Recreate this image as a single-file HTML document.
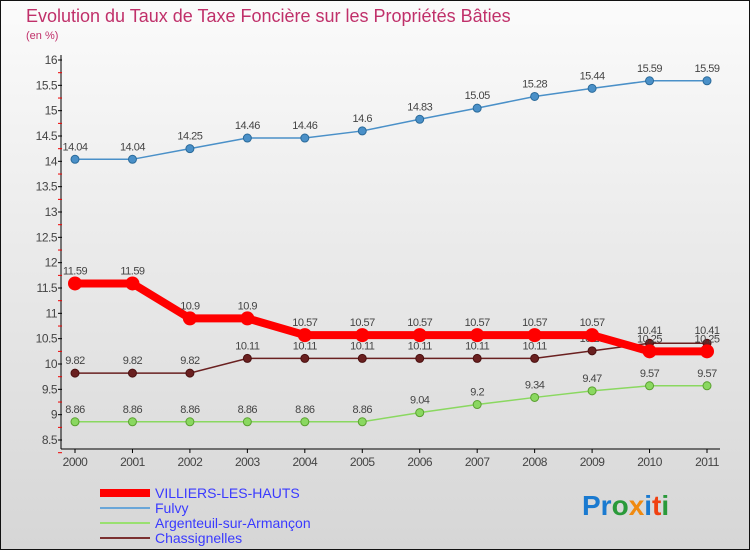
<!DOCTYPE html>
<html><head><meta charset="utf-8"><style>
body{margin:0;width:750px;height:550px;overflow:hidden;font-family:"Liberation Sans",sans-serif}
</style></head><body>
<svg id="c" width="750" height="550" xmlns="http://www.w3.org/2000/svg" font-family="Liberation Sans, sans-serif">
<defs><linearGradient id="bg" x1="0" y1="0" x2="0" y2="1"><stop offset="0" stop-color="#fbfbfb"/><stop offset="1" stop-color="#d6d6d6"/></linearGradient></defs>
<rect x="0.5" y="0.5" width="749" height="549" fill="url(#bg)" stroke="#111"/>
<text x="26" y="22" font-size="18" fill="#c0306a">Evolution du Taux de Taxe Foncière sur les Propriétés Bâties</text>
<text x="26" y="39" font-size="11" fill="#c0306a">(en %)</text>
<g id="axes"></g><g id="series"></g>
<g font-size="14">
<rect x="100" y="489" width="50" height="8" fill="#f00"/>
<text x="155" y="498" fill="#3a3aff">VILLIERS-LES-HAUTS</text>
<line x1="100" y1="508" x2="150" y2="508" stroke="#6aa6d8" stroke-width="2"/>
<text x="155" y="513" fill="#3a3aff">Fulvy</text>
<line x1="100" y1="523" x2="150" y2="523" stroke="#99e070" stroke-width="2"/>
<text x="155" y="528" fill="#3a3aff">Argenteuil-sur-Armançon</text>
<line x1="100" y1="538" x2="150" y2="538" stroke="#7a3030" stroke-width="2"/>
<text x="155" y="543" fill="#3a3aff">Chassignelles</text>
</g>
<text x="582" y="515" font-size="28" font-weight="bold"><tspan fill="#1a7ad0">Pr</tspan><tspan fill="#2a9a3a">o</tspan><tspan fill="#f08a10">x</tspan><tspan fill="#1a7ad0">i</tspan><tspan fill="#f04010">t</tspan><tspan fill="#2a9a3a">i</tspan></text>
</svg>
<script>
const years=["2000","2001","2002","2003","2004","2005","2006","2007","2008","2009","2010","2011"];
const yTicks=[8.5,9,9.5,10,10.5,11,11.5,12,12.5,13,13.5,14,14.5,15,15.5,16];
const villiers=[11.59,11.59,10.9,10.9,10.57,10.57,10.57,10.57,10.57,10.57,10.25,10.25];
const fulvy=[14.04,14.04,14.25,14.46,14.46,14.6,14.83,15.05,15.28,15.44,15.59,15.59];
const argenteuil=[8.86,8.86,8.86,8.86,8.86,8.86,9.04,9.2,9.34,9.47,9.57,9.57];
const chassignelles=[9.82,9.82,9.82,10.11,10.11,10.11,10.11,10.11,10.11,10.26,10.41,10.41];
const NS="http://www.w3.org/2000/svg";
const X=i=>75+i*(707-75)/11;
const Y=v=>60+(16-v)*(380/7.5);
function mk(t,a,p){const e=document.createElementNS(NS,t);for(const k in a)e.setAttribute(k,a[k]);p.appendChild(e);return e;}
const ax=document.getElementById('axes');
let l=mk('line',{x1:61,y1:55,x2:61,y2:449,stroke:'#000'},ax);


l=mk('line',{x1:61,y1:449,x2:720,y2:449,stroke:'#000'},ax);


yTicks.forEach(v=>{const y=Y(v);mk('line',{x1:58,y1:y,x2:62,y2:y,stroke:'#000'},ax);
 mk('line',{x1:58,y1:y+12.7,x2:62,y2:y+12.7,stroke:'#e00'},ax);
 const t=mk('text',{x:57,y:y+4,'font-size':12,fill:'#444','text-anchor':'end','letter-spacing':'-0.5'},ax);t.textContent=String(v);
 
 });
years.forEach((yr,i)=>{const x=X(i);mk('line',{x1:x,y1:449,x2:x,y2:453,stroke:'#000'},ax);
 const t=mk('text',{x:x,y:466,'font-size':12,fill:'#444','text-anchor':'middle','letter-spacing':'-0.5'},ax);t.textContent=yr;
 
 });
const sg=document.getElementById('series');
function draw(name,vals,color,w,r,stroke){
 const g=mk('g',{},sg);
 
 
 mk('polyline',{points:vals.map((v,i)=>X(i)+','+Y(v)).join(' '),fill:'none',stroke:color,'stroke-width':w},g);
 vals.forEach((v,i)=>{const c=mk('circle',{cx:X(i),cy:Y(v),r:r,fill:color,stroke:stroke},g);
  
  
  const t=mk('text',{x:X(i),y:Y(v)-9,'font-size':11,fill:'#444','text-anchor':'middle','letter-spacing':'-0.5'},g);t.textContent=String(v);
  
  });
}
draw('fulvy',fulvy,'#4a90c8',1.5,4,'#2a6a9a');
draw('argenteuil',argenteuil,'#8ad860',1.5,4,'#5aa030');
draw('chassignelles',chassignelles,'#6a2020',1.5,4,'#4a1010');
draw('villiers',villiers,'#f00',8,7,'none');
</script>
</body></html>
